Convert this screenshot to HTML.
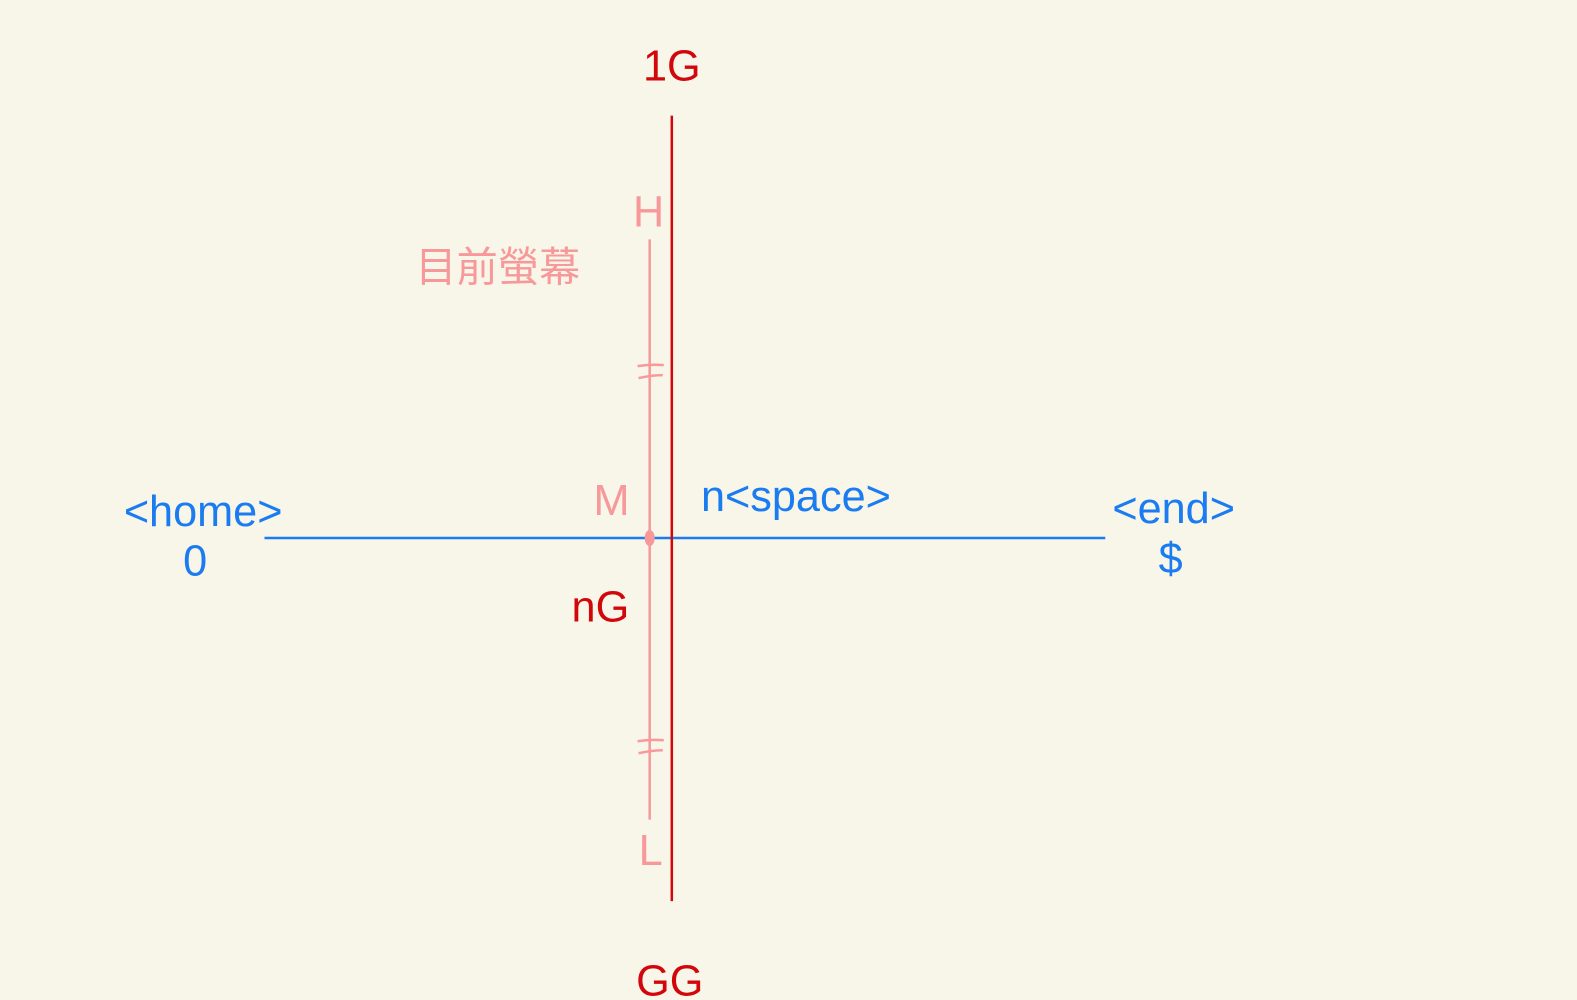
<!DOCTYPE html>
<html><head><meta charset="utf-8"><style>
html,body{margin:0;padding:0;background:#f8f5e9;}
svg{display:block;}
text{font-family:"Liberation Sans","Noto Sans CJK TC",sans-serif;font-size:43px;}
</style></head><body>
<svg width="1577" height="1000" viewBox="0 0 1577 1000">
<rect x="0" y="0" width="1577" height="1000" fill="#f8f5e9"/>
<g transform="scale(1.0057)">
<line x1="263" y1="535" x2="1099" y2="535" stroke="#1a7cf0" stroke-width="2.5"/>
<line x1="646" y1="238" x2="646" y2="815" stroke="#f7999a" stroke-width="2.5"/>
<line x1="668" y1="115" x2="668" y2="896" stroke="#d2070b" stroke-width="2.5"/>
<g fill="none" stroke="#f7999a" stroke-width="2.5">
<path d="M634,364 Q646,362 660,363"/><path d="M635,376 Q648,373 659,373"/>
</g>
<g fill="none" stroke="#f7999a" stroke-width="2.5">
<path d="M634,737 Q646,735 660,736"/><path d="M635,749 Q648,746 659,746"/>
</g>
<ellipse cx="646" cy="535" rx="5" ry="8" fill="#f7999a"/>
<text x="668" y="80" text-anchor="middle" fill="#d2070b">1G</text>
<text x="666" y="990" text-anchor="middle" fill="#d2070b">GG</text>
<text x="597" y="618" text-anchor="middle" fill="#d2070b">nG</text>
<text x="645" y="225" text-anchor="middle" fill="#f7999a">H</text>
<text x="647" y="860" text-anchor="middle" fill="#f7999a">L</text>
<text x="608" y="512" text-anchor="middle" fill="#f7999a">M</text>
<text x="413" y="280" fill="#f7999a" style="font-size:41px">目前螢幕</text>
<text x="202" y="523" text-anchor="middle" fill="#1a7cf0">&lt;home&gt;</text>
<text x="194" y="572" text-anchor="middle" fill="#1a7cf0">0</text>
<text x="697" y="508" fill="#1a7cf0">n&lt;space&gt;</text>
<text x="1167" y="520" text-anchor="middle" fill="#1a7cf0">&lt;end&gt;</text>
<text x="1164" y="570" text-anchor="middle" fill="#1a7cf0">$</text>
</g>
</svg>
</body></html>
